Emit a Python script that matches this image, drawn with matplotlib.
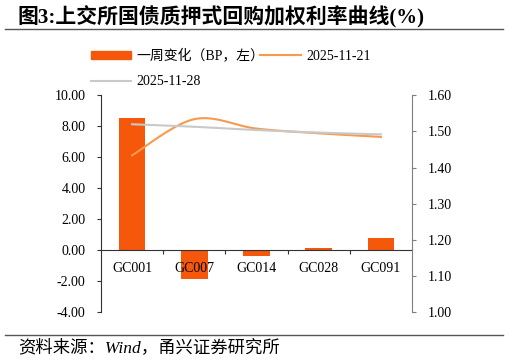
import numpy as np
import matplotlib
matplotlib.use("Agg")
import matplotlib.pyplot as plt
from matplotlib.lines import Line2D

plt.rcParams['font.family'] = ['Liberation Serif', 'Noto Sans CJK SC', 'DejaVu Sans']
plt.rcParams['axes.unicode_minus'] = False

categories = ["GC001", "GC007", "GC014", "GC028", "GC091"]
weekly_change = [8.55, -1.85, -0.35, 0.17, 0.77]
rate_1121 = [1.434, 1.534, 1.508, 1.495, 1.485]
rate_1128 = [1.520, 1.513, 1.504, 1.497, 1.492]

BAR_COLOR = "#F5570B"
ORANGE = "#F79A4E"
GRAY = "#C9C9C9"


def smooth(x, y, steps=30):
    # catmull-rom, similar to excel's smoothed lines
    x = np.asarray(x, float)
    y = np.asarray(y, float)
    px = np.concatenate([[x[0]], x, [x[-1]]])
    py = np.concatenate([[y[0]], y, [y[-1]]])
    xs, ys = [], []
    t = np.linspace(0, 1, steps)
    for i in range(1, len(px) - 2):
        for arr, out in ((px, xs), (py, ys)):
            p0, p1, p2, p3 = arr[i - 1], arr[i], arr[i + 1], arr[i + 2]
            out.extend(0.5 * ((2 * p1) + (-p0 + p2) * t
                              + (2 * p0 - 5 * p1 + 4 * p2 - p3) * t ** 2
                              + (-p0 + 3 * p1 - 3 * p2 + p3) * t ** 3))
    return np.array(xs), np.array(ys)


fig = plt.figure(figsize=(5.09, 3.62), dpi=100)
ax = fig.add_axes([0.1984, 0.1373, 0.611, 0.5994])
ax2 = ax.twinx()

x = np.arange(len(categories))
ax.bar(x, weekly_change, width=0.43, color=BAR_COLOR, zorder=2)
ax.set_xlim(-0.5, len(categories) - 0.5)
ax.set_ylim(-4, 10)
ax.set_yticks(np.arange(-4, 10.1, 2))
ax.set_yticklabels([f"{v:.2f}" for v in np.arange(-4, 10.1, 2)])

for s in ["top", "right"]:
    ax.spines[s].set_visible(False)
ax.spines['bottom'].set_position(('data', 0))
ax.spines['bottom'].set_color("#333333")
ax.spines['left'].set_color("#333333")
ax.set_xticks(x[:-1] + 0.5)
ax.set_xticklabels([])
ax.tick_params(axis='x', direction='out', length=3, color="#333333")
ax.tick_params(axis='y', direction='out', length=3, labelsize=10, pad=8, color="#333333")

for i, c in enumerate(categories):
    ax.annotate(c, xy=(i, 0), xytext=(0, -13), textcoords='offset points',
                ha='center', va='center', fontsize=10, zorder=5)

sx, sy = smooth(x, rate_1121)
ax2.plot(sx, sy, color=ORANGE, lw=1.5)
sx, sy = smooth(x, rate_1128)
ax2.plot(sx, sy, color=GRAY, lw=1.5)
ax2.set_ylim(1.0, 1.6)
ax2.set_yticks(np.arange(1.0, 1.61, 0.1))
ax2.set_yticklabels([f"{v:.2f}" for v in np.arange(1.0, 1.61, 0.1)])
for s in ["top", "left", "bottom"]:
    ax2.spines[s].set_visible(False)
ax2.spines['right'].set_color("#7F7F7F")
ax2.tick_params(axis='y', direction='out', length=3, labelsize=10, pad=8, color="#7F7F7F")

handles = [
    plt.Rectangle((0, 0), 1, 1, color=BAR_COLOR),
    Line2D([], [], color=GRAY, lw=1.5),
    Line2D([], [], color=ORANGE, lw=1.5),
]
labels = ["一周变化（BP，左）", "2025-11-28", "2025-11-21"]
fig.legend(handles, labels, ncol=2, frameon=False, loc='upper left',
           bbox_to_anchor=(0.178, 0.865), fontsize=10, handlelength=2.9,
           handleheight=0.6, handletextpad=0.4, columnspacing=-0.3,
           labelspacing=0.9, borderpad=0, borderaxespad=0)

fig.text(0.035, 0.953, "图3:上交所国债质押式回购加权利率曲线(%)", fontsize=15,
         fontweight='bold', ha='left', va='center')
fig.add_artist(Line2D([0.01, 0.988], [0.92, 0.92], color="#555555", lw=1))
fig.add_artist(Line2D([0.01, 0.988], [0.075, 0.075], color="#555555", lw=1))
fig.text(0.035, 0.04, "资料来源：Wind，甬兴证券研究所", fontsize=12.5,
         style='italic', ha='left', va='center')

fig.savefig("out.png", dpi=100)
